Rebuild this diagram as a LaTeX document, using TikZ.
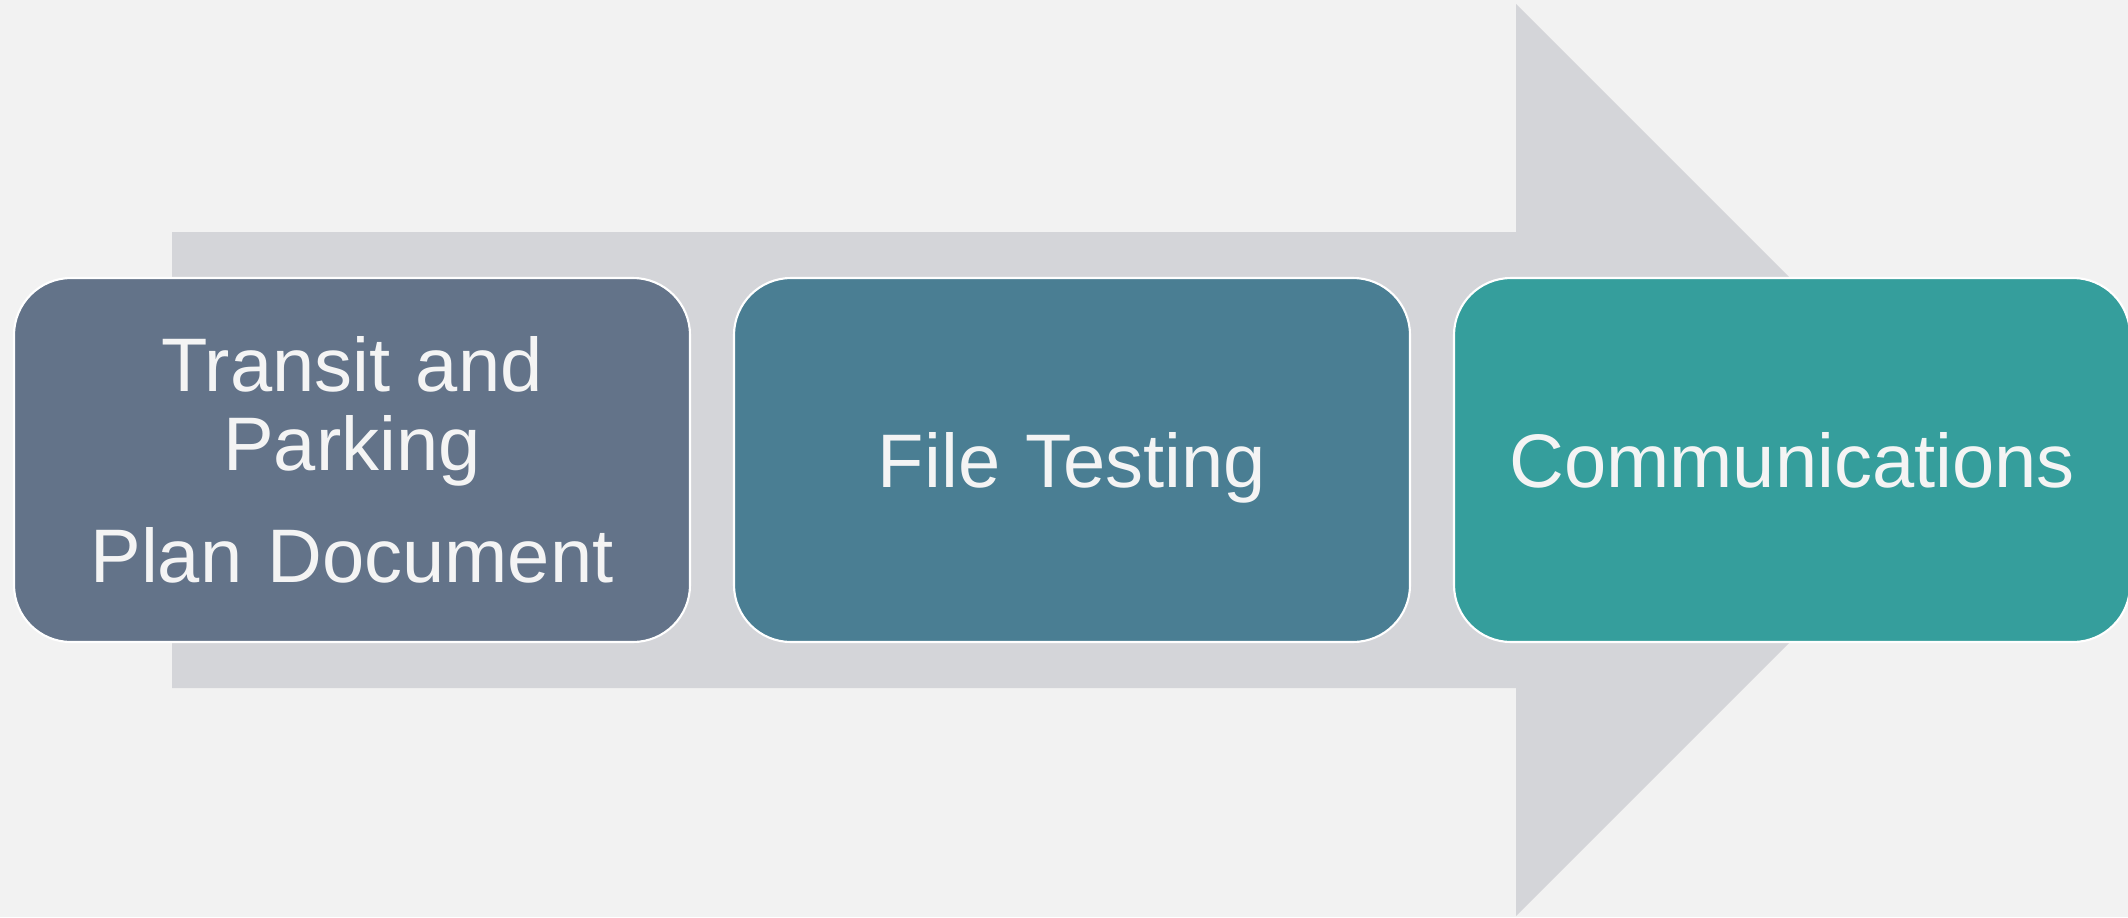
\documentclass[tikz,border=0pt]{standalone}
\usepackage{fontspec}
\setmainfont{Liberation Sans}

\definecolor{pagebg}{HTML}{F2F2F2}
\definecolor{arrowgray}{HTML}{D4D5D9}
\definecolor{slate}{HTML}{637389}
\definecolor{steel}{HTML}{4A7E93}
\definecolor{teal}{HTML}{359E9C}
\definecolor{labelwhite}{HTML}{F4F4F4}

\begin{document}
\begin{tikzpicture}[node distance=7.2cm, auto]
        \tikzstyle{phase}=[draw=white, line width=0.6pt, rectangle, rounded corners=0.57cm, minimum width=6.76cm, minimum height=3.64cm, text width=6.3cm, align=center, text=labelwhite, font=\fontsize{21.6}{22.5}\selectfont];

        \fill[pagebg] (0,0) rectangle (21.28,9.17);
        \useasboundingbox (0,0) rectangle (21.28,9.17);

        % block arrow behind the three phases
        \fill[arrowgray] (1.72,2.29) -- (15.16,2.29) -- (15.16,0.01) -- (19.72,4.57)
            -- (15.16,9.13) -- (15.16,6.85) -- (1.72,6.85) -- cycle;

        \node[phase, fill=slate] (plan) at (3.52,4.57) {Transit and\\Parking\\[9.4pt]Plan Document};
        \node[phase, fill=steel, text depth=0pt, right of=plan] (testing) {File Testing};
        \node[phase, fill=teal, right of=testing] (comms) {Communications};
    \end{tikzpicture}
\end{document}
